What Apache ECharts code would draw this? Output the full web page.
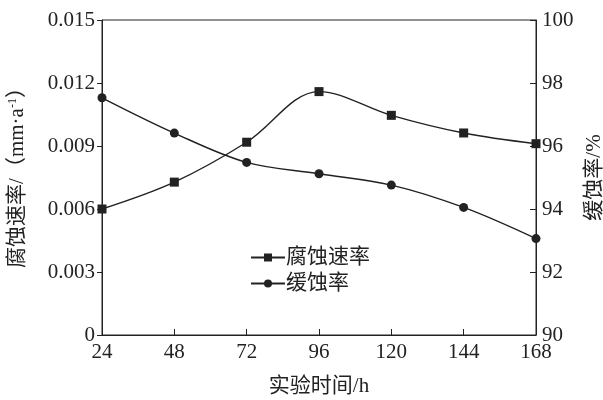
<!DOCTYPE html>
<html>
<head>
<meta charset="utf-8">
<script src="https://cdn.jsdelivr.net/npm/echarts@6/dist/echarts.min.js"></script>
<style>html,body{margin:0;padding:0;background:#fff;}#c{width:603px;height:400px;}</style>
</head>
<body>
<div id="c"></div>
<script>
var hours = [24, 48, 72, 96, 120, 144, 168];
var corrosionRate = [0.0060, 0.00728, 0.00918, 0.01159, 0.01046, 0.00962, 0.00911];
var inhibitionRate = [97.53, 96.41, 95.48, 95.12, 94.76, 94.05, 93.06];
var leftTicks = [0, 0.003, 0.006, 0.009, 0.012, 0.015];
var rightTicks = [90, 92, 94, 96, 98, 100];

var FONT = '"Liberation Serif", "Noto Sans CJK SC", serif';
var INK = '#222';
var FS = 21;
var chart = echarts.init(document.getElementById('c'), null, {renderer: 'canvas'});
function pairs(xs, ys) { return xs.map(function (x, i) { return [x, ys[i]]; }); }
chart.setOption({
  animation: false,
  backgroundColor: '#fff',
  textStyle: {fontFamily: FONT, color: INK},
  grid: {left: 102, right: 67, top: 20, bottom: 65, show: true, borderColor: INK, borderWidth: 1,
    containLabel: false, outerBoundsMode: 'none'},
  legend: {
    left: 245, top: 242, orient: 'vertical', itemGap: 5, itemWidth: 34, itemHeight: 10,
    textStyle: {fontFamily: FONT, fontSize: FS, color: INK, padding: [0, 0, 0, -4]},
    data: ['腐蚀速率', '缓蚀率']
  },
  xAxis: {
    type: 'value', min: 24, max: 168, interval: 24,
    name: '实验时间/h', nameLocation: 'middle', nameGap: 41,
    nameTextStyle: {fontFamily: FONT, fontSize: FS, color: INK},
    axisLine: {lineStyle: {color: INK}},
    axisTick: {inside: true, length: 6, lineStyle: {color: INK}},
    axisLabel: {fontFamily: FONT, fontSize: FS, color: INK, margin: 7},
    splitLine: {show: false}
  },
  yAxis: [{
    type: 'value', min: leftTicks[0], max: leftTicks[leftTicks.length - 1], interval: 0.003,
    position: 'left',
    name: '腐蚀速率/（mm·a{sup|-1}）', nameLocation: 'middle', nameGap: 74, nameRotate: 90,
    nameTextStyle: {fontFamily: FONT, fontSize: FS, color: INK, padding: [0, 0, 0, 10],
      rich: {sup: {fontFamily: FONT, fontSize: 12, color: INK, verticalAlign: 'top', padding: [0, 0, 9, 0]}}},
    axisLine: {show: true, lineStyle: {color: INK}},
    axisTick: {show: true, inside: false, length: 5, lineStyle: {color: INK}},
    axisLabel: {fontFamily: FONT, fontSize: FS, color: INK, margin: 7,
      formatter: function (v) { return v === 0 ? '0' : v.toFixed(3); }},
    splitLine: {show: false}
  }, {
    type: 'value', min: rightTicks[0], max: rightTicks[rightTicks.length - 1], interval: 2,
    position: 'right',
    name: '缓蚀率/%', nameLocation: 'middle', nameGap: 39, nameRotate: 90,
    nameTextStyle: {fontFamily: FONT, fontSize: FS, color: INK},
    axisLine: {show: true, lineStyle: {color: INK}},
    axisTick: {show: true, inside: true, length: 6, lineStyle: {color: INK}},
    axisLabel: {fontFamily: FONT, fontSize: FS, color: INK, margin: 6},
    splitLine: {show: false}
  }],
  series: [{
    name: '腐蚀速率', type: 'line', yAxisIndex: 0, smooth: 0.35,
    data: pairs(hours, corrosionRate),
    symbol: 'rect', symbolSize: 9,
    lineStyle: {color: INK, width: 1.4}, itemStyle: {color: INK}
  }, {
    name: '缓蚀率', type: 'line', yAxisIndex: 1, smooth: 0.35,
    data: pairs(hours, inhibitionRate),
    symbol: 'circle', symbolSize: 9,
    lineStyle: {color: INK, width: 1.4}, itemStyle: {color: INK}
  }]
});
</script>
</body>
</html>
